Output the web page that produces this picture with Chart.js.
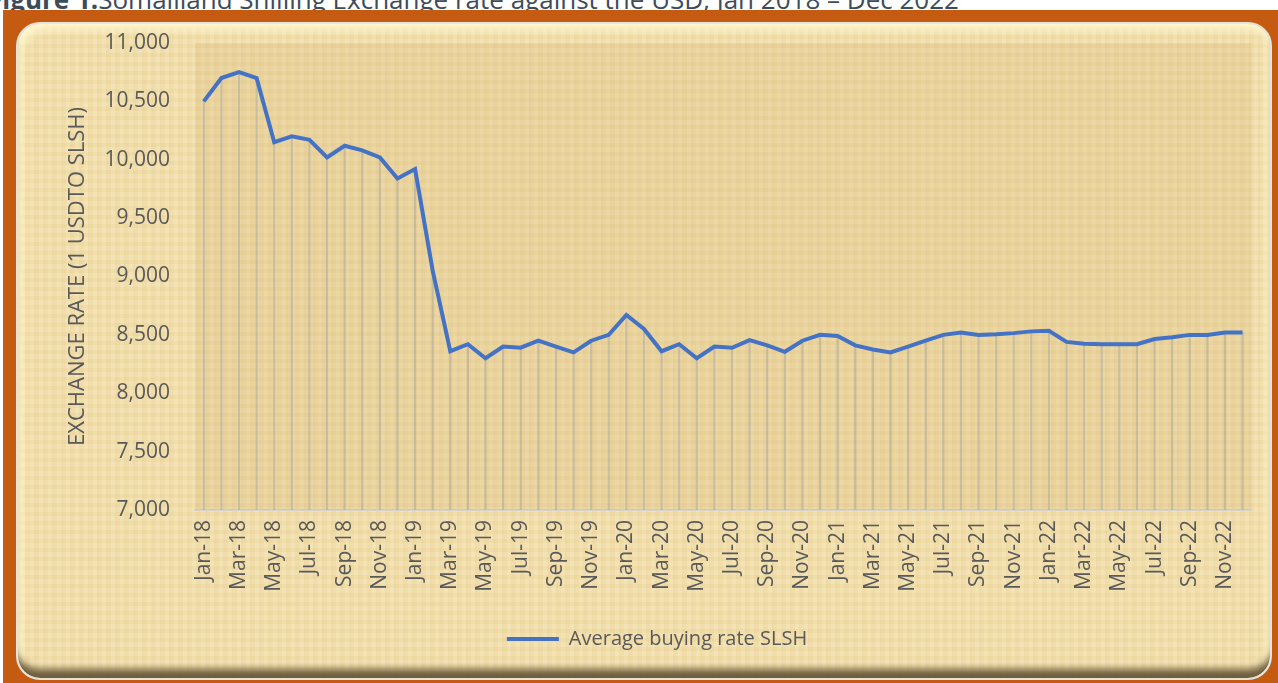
<!DOCTYPE html>
<html>
<head>
<meta charset="utf-8">
<script src="https://cdn.jsdelivr.net/npm/chart.js@4.4.0/dist/chart.umd.min.js"></script>
<style>
  html, body { margin: 0; padding: 0; background: #fff; }
  body { width: 1278px; height: 683px; position: relative; overflow: hidden; font-family: 'Open Sans', sans-serif; }
  .caption {
    position: absolute; left: -12px; top: -19px; white-space: nowrap;
    font-size: 26px; color: #3e4b5b;
  }
  .caption b { font-weight: 700; }
  .frame { position: absolute; left: 3px; top: 10px; right: 0; bottom: 0; background: #C55A11; }
  .card {
    position: absolute; left: 16px; top: 22px; width: 1256px; height: 658px;
    border-radius: 24px; box-sizing: border-box;
    border: 2px solid #e6e3dc;
    background:
      repeating-linear-gradient(90deg, rgba(190,150,70,0.05) 0 3px, rgba(255,255,255,0.04) 3px 7px, rgba(170,130,60,0.06) 7px 9px),
      repeating-linear-gradient(0deg, rgba(190,150,70,0.05) 0 4px, rgba(255,255,255,0.05) 4px 9px),
      #F3E0AD;
    box-shadow:
      inset 0 -13px 7px -4px rgba(95,80,50,0.9),
      inset 6px 8px 8px -2px rgba(255,248,205,0.95),
      inset -6px 0 8px -2px rgba(255,248,205,0.7);
  }
  #chart { position: absolute; left: 0; top: 0; }
</style>
</head>
<body>
<div class="caption"><b>Figure 1:</b>Somaliland Shilling Exchange rate against the USD, Jan 2018 – Dec 2022</div>
<div class="frame"></div>
<div class="card"></div>
<canvas id="chart" width="1278" height="683"></canvas>
<script>
// monthly categories Jan-18 .. Dec-22
const years = ['18', '19', '20', '21', '22'];
const monthNames = ['Jan', 'Feb', 'Mar', 'Apr', 'May', 'Jun', 'Jul', 'Aug', 'Sep', 'Oct', 'Nov', 'Dec'];
const months = years.flatMap(y => monthNames.map(m => m + '-' + y));

// average buying rate, SLSH per 1 USD
const rate2018 = [10500, 10700, 10750, 10700, 10150, 10200, 10170, 10020, 10120, 10080, 10020, 9840];
const rate2019 = [9920, 9050, 8360, 8420, 8300, 8400, 8390, 8450, 8400, 8350, 8450, 8500];
const rate2020 = [8670, 8550, 8360, 8420, 8300, 8400, 8390, 8455, 8410, 8355, 8450, 8500];
const rate2021 = [8490, 8410, 8375, 8350, 8400, 8450, 8500, 8520, 8500, 8505, 8515, 8530];
const rate2022 = [8535, 8440, 8425, 8420, 8420, 8420, 8465, 8480, 8500, 8500, 8520, 8520];
const buyingRate = [...rate2018, ...rate2019, ...rate2020, ...rate2021, ...rate2022];

const yTicks = [7000, 7500, 8000, 8500, 9000, 9500, 10000, 10500, 11000];

const LINE_BLUE = '#4472C4';
const TEXT_GREY = '#595959';

// darker tan behind the plot area
const plotShade = {
    id: 'plotShade',
    beforeDatasetsDraw(chart) {
        const a = chart.chartArea;
        const ctx = chart.ctx;
        ctx.save();
        ctx.fillStyle = 'rgba(190,150,70,0.14)';
        ctx.fillRect(a.left, a.top, a.right - a.left, a.bottom - a.top);
        ctx.restore();
    }
};

new Chart(document.getElementById('chart'), {
    type: 'line',
    data: {
        labels: months,
        datasets: [
            {
                label: 'Average buying rate SLSH',
                data: buyingRate,
                borderColor: LINE_BLUE,
                backgroundColor: LINE_BLUE,
                borderWidth: 4,
                pointRadius: 0,
                tension: 0,
                order: 0,
            },
            {
                // drop lines under each point
                type: 'bar',
                label: 'drop',
                data: buyingRate,
                backgroundColor: 'rgba(160,160,160,0.45)',
                barThickness: 1.5,
                order: 1,
            },
        ],
    },
    options: {
        responsive: false,
        animation: false,
        layout: { padding: { left: 61, top: 43, right: 25, bottom: 24 } },
        plugins: {
            tooltip: { enabled: false },
            legend: {
                position: 'bottom',
                labels: {
                    color: TEXT_GREY,
                    font: { family: "'Open Sans', sans-serif", size: 20 },
                    boxWidth: 52, boxHeight: 4, padding: 9,
                    generateLabels: () => [{
                        text: 'Average buying rate SLSH',
                        fillStyle: LINE_BLUE, strokeStyle: LINE_BLUE,
                        lineWidth: 0, hidden: false, datasetIndex: 0,
                        fontColor: TEXT_GREY,
                    }],
                },
            },
        },
        scales: {
            x: {
                offset: true,
                grid: { display: false, drawTicks: false, offset: true },
                border: { color: '#d6d3cc', width: 2 },
                ticks: {
                    autoSkip: false, minRotation: 90, maxRotation: 90, padding: 10,
                    color: TEXT_GREY,
                    font: { family: "'Open Sans', sans-serif", size: 21 },
                    callback: (v, i) => (i % 2 === 0 ? months[i] : ''),
                },
                afterFit: s => { s.height = 110; },
            },
            y: {
                min: yTicks[0], max: yTicks[yTicks.length - 1],
                grid: { display: false, drawTicks: false },
                border: { display: false },
                afterBuildTicks: s => { s.ticks = yTicks.map(v => ({ value: v })); },
                ticks: {
                    padding: 25, color: TEXT_GREY,
                    font: { family: "'Open Sans', sans-serif", size: 21 },
                    callback: v => v.toLocaleString('en-US'),
                },
                title: {
                    display: true, text: 'EXCHANGE RATE (1 USDTO SLSH)',
                    color: TEXT_GREY,
                    font: { family: "'Open Sans', sans-serif", size: 22 },
                },
                afterFit: s => { s.width = 134; },
            },
        },
    },
    plugins: [plotShade],
});
</script>
</body>
</html>
